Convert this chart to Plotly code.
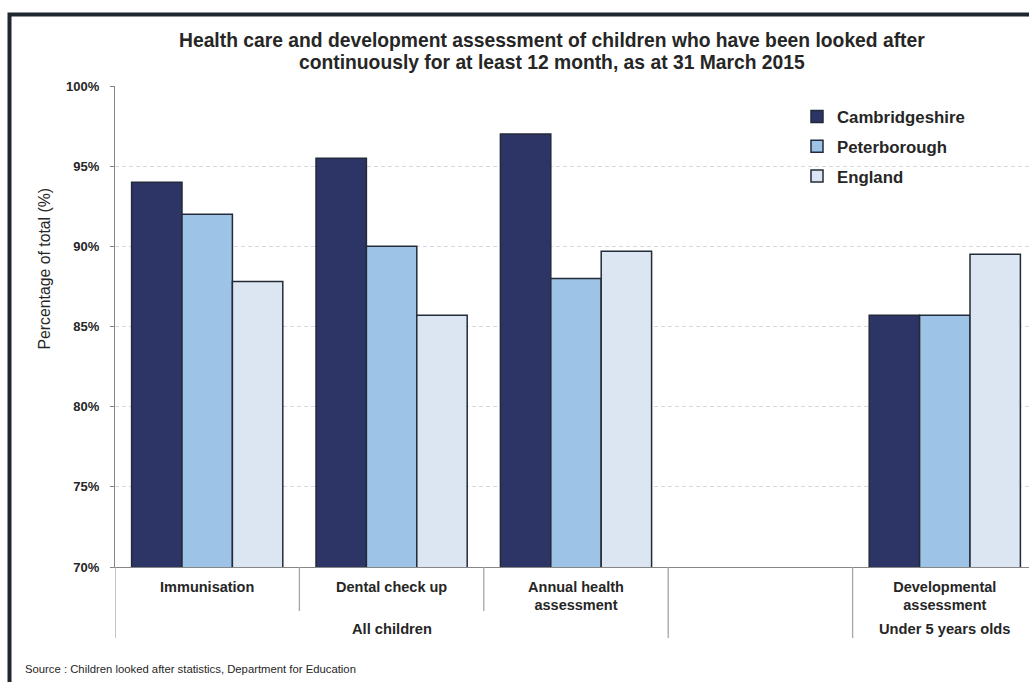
import plotly.graph_objects as go

categories = ["Immunisation", "Dental check up", "Annual health<br>assessment", " ", "Developmental<br>assessment"]
cambridgeshire = [94.0, 95.5, 97.0, None, 85.7]
peterborough = [92.0, 90.0, 88.0, None, 85.7]
england = [87.8, 85.7, 89.7, None, 89.5]
series_names = ["Cambridgeshire", "Peterborough", "England"]
series_colors = ["#2c3565", "#9dc3e6", "#dce6f2"]
y_ticks = [70, 75, 80, 85, 90, 95, 100]
groups = [("All children", 1), ("Under 5 years olds", 4)]
title_lines = ["Health care and development assessment of children who have been looked after",
               "continuously for at least 12 month, as at 31 March 2015"]

W, H = 1029, 682
L, R, T, B = 115, 0, 86, 115
plot_w = W - L - R
plot_h = H - T - B

fig = go.Figure()
for name, vals, col in zip(series_names, [cambridgeshire, peterborough, england], series_colors):
    fig.add_trace(go.Bar(
        name=name, x=categories, y=vals,
        marker=dict(color=col, line=dict(color="#232b3a", width=1.5)),
        legendgroup=name,
    ))

def px_x(px):
    return (px - L) / plot_w

def px_y(py):
    return (H - B - py) / plot_h

# outer frame (cropped chart border)
fig.add_shape(type="path", xref="paper", yref="paper",
              path=f"M {px_x(9.5)} {px_y(720)} L {px_x(9.5)} {px_y(14.5)} L {px_x(1100)} {px_y(14.5)}",
              line=dict(color="#1f2630", width=4))

# category separators
for xb, long in [(-0.5, True), (0.5, False), (1.5, False), (2.5, True), (3.5, True)]:
    fig.add_shape(type="line", xref="x", yref="paper", x0=xb, x1=xb,
                  y0=0, y1=px_y(638 if long else 611),
                  line=dict(color="#a6a6a6", width=1.3))

for label, xc in groups:
    fig.add_annotation(x=xc, xref="x", y=px_y(629), yref="paper", text=label,
                       showarrow=False, font=dict(family="Arial", size=14.7, color="#262626", weight="bold"),
                       yanchor="middle")

for line, py in zip(title_lines, [40.5, 62.5]):
    fig.add_annotation(x=px_x(552), xref="paper", y=px_y(py), yref="paper",
                       text=line, showarrow=False, borderpad=0,
                       font=dict(family="Arial", size=19.3, color="#262626", weight="bold"),
                       yanchor="middle", xanchor="center")

fig.add_annotation(x=px_x(33), xref="paper", y=px_y(269), yref="paper",
                   text="Percentage of total (%)", textangle=-90, showarrow=False,
                   font=dict(family="Arial", size=15.8, color="#262626"))

fig.add_annotation(x=px_x(23), xref="paper", y=px_y(669), yref="paper",
                   text="Source : Children looked after statistics, Department for Education",
                   showarrow=False, xanchor="left", yanchor="middle",
                   font=dict(family="Arial", size=11.3, color="#262626"))

fig.update_layout(
    width=W, height=H,
    margin=dict(l=L, r=R, t=T, b=B),
    paper_bgcolor="white", plot_bgcolor="white",
    barmode="group", bargap=0.18, bargroupgap=0,
    font=dict(family="Arial", color="#262626"),
    legend=dict(x=px_x(797), y=px_y(99), xanchor="left", yanchor="top",
                font=dict(size=16.8, color="#262626", weight="bold"),
                bgcolor="rgba(0,0,0,0)", tracegroupgap=5, traceorder="grouped",
                itemwidth=30),
    showlegend=True,
)
fig.update_xaxes(type="category", range=[-0.5, -0.5 + plot_w / 184.4],
                 showline=True, linecolor="#868686", linewidth=1.3,
                 ticks="", ticklabelstandoff=6,
                 tickfont=dict(size=14.5, color="#262626", weight="bold"),
                 showgrid=False, fixedrange=True)
fig.update_yaxes(range=[70, 100], tickvals=y_ticks, ticktext=[f"{v}%" for v in y_ticks],
                 showline=True, linecolor="#868686", linewidth=1.3,
                 ticks="outside", ticklen=4, tickcolor="#868686", ticklabelstandoff=8,
                 tickfont=dict(size=13, color="#262626", weight="bold"),
                 showgrid=True, gridcolor="#d3dae4", griddash="4px,3px", gridwidth=1,
                 zeroline=False)

fig.write_html("out.html")
